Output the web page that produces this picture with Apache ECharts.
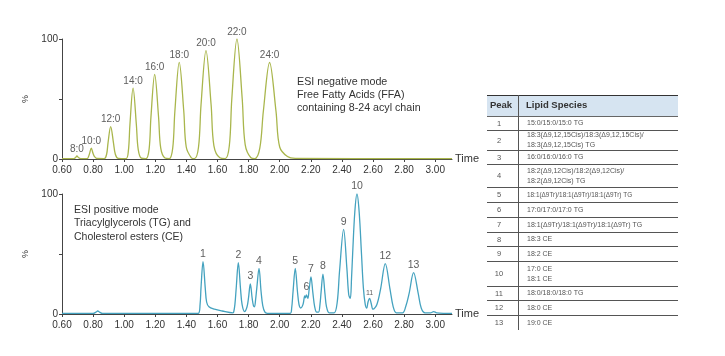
<!DOCTYPE html>
<html><head><meta charset="utf-8">
<script src="https://cdn.jsdelivr.net/npm/echarts@6/dist/echarts.min.js"></script>
<style>html,body{margin:0;padding:0;background:#fff}#c{width:725px;height:356px}</style>
</head><body><div id="c"></div>
<script>
// ---------- data ----------
const xTickValues = [0.60,0.80,1.00,1.20,1.40,1.60,1.80,2.00,2.20,2.40,2.60,2.80,3.00];
const yTickValues = [0,50,100];
const yLabelValues = [0,100];

// ESI negative mode (FFA) trace: [time, %]
const ffaTrace = [
 [0.600,0.3],[0.660,0.3],[0.676,0.3],[0.688,1.3],[0.696,2.5],[0.705,1.3],[0.720,0.3],
 [0.762,0.3],[0.772,2.5],[0.777,4.5],[0.788,9],[0.800,4.5],[0.809,2],[0.825,0.4],
 [0.872,0.3],[0.887,4],[0.896,13.5],[0.913,27],[0.931,13.5],[0.943,4],[0.962,0.5],
 [1.012,0.3],[1.027,7],[1.037,29],[1.057,59],[1.078,29],[1.090,8],[1.110,0.7],
 [1.140,0.3],[1.160,8],[1.172,35],[1.196,70.6],[1.221,35],[1.235,9],[1.262,0.8],
 [1.290,0.3],[1.312,9],[1.326,40],[1.354,80.6],[1.383,40],[1.399,10],[1.432,1],
 [1.452,0.3],[1.478,10],[1.494,45],[1.526,90.3],[1.559,45],[1.577,11],[1.615,1],
 [1.650,0.3],[1.676,11],[1.692,50],[1.725,100],[1.759,50],[1.778,12],[1.815,1],
 [1.840,0.3],[1.872,9],[1.895,40],[1.935,80.4],[1.976,40],[2.000,10],[2.050,2],[2.100,0.5],[3.108,0.3]
];
const ffaPeakNames = ['8:0','10:0','12:0','14:0','16:0','18:0','20:0','22:0','24:0'];
const ffaPeakTimes = [0.696,0.788,0.913,1.057,1.196,1.354,1.526,1.725,1.935];
const ffaPeakHeights = [2.5,9,27,59,70.6,80.6,90.3,100,80.4];

// ESI positive mode (TG / CE) trace: [time, %]
const ceTrace = [
 [0.600,0.5],[0.800,0.5],[0.818,1.5],[0.830,2.5],[0.842,1.5],[0.860,0.5],[1.476,0.5],
 [1.488,8],[1.494,22],[1.507,43.6],[1.521,22],[1.530,10],[1.545,6],[1.580,4],[1.630,2.5],[1.700,1],
 [1.704,1.5],[1.712,8],[1.720,21],[1.734,42.8],[1.748,21],[1.758,8],[1.774,2],
 [1.790,6],[1.799,13],[1.811,25],[1.823,13],[1.831,7],[1.838,6],
 [1.845,12],[1.853,22],[1.867,38],[1.880,19],[1.891,7],[1.905,1.5],[1.920,0.6],
 [2.068,0.6],
 [2.077,5],[2.086,19],[2.100,38],[2.114,19],[2.124,8],[2.135,5],
 [2.150,8],[2.161,15],[2.166,13.5],[2.172,16],[2.181,13],
 [2.189,20],[2.201,31],[2.213,18],[2.225,6],[2.238,1.5],
 [2.250,1.5],[2.259,8],[2.266,18],[2.278,33.3],[2.291,17],[2.301,6],[2.318,1],
 [2.350,1],
 [2.370,10],[2.385,36],[2.411,70.6],[2.432,38],[2.444,16],[2.454,13],
 [2.462,30],[2.469,50],[2.483,85],[2.497,100],[2.511,85],[2.526,50],[2.538,22],[2.550,8],[2.560,5],
 [2.568,10],[2.578,13],[2.588,9],[2.600,4],
 [2.625,8],[2.649,21],[2.679,42],[2.709,21],[2.730,6],[2.750,1],
 [2.790,1],
 [2.810,6],[2.832,17],[2.861,34.4],[2.891,17],[2.910,5],[2.935,1],
 [2.970,1],[2.990,2],[3.010,1],[3.108,0.5]
];
const cePeakNames = ['1','2','3','4','5','6','7','8','9','10','11','12','13'];
const cePeakTimes = [1.507,1.734,1.811,1.867,2.100,2.172,2.201,2.278,2.411,2.497,2.578,2.679,2.861];
const cePeakHeights = [43.6,42.8,25,38,38,16,31,33.3,70.6,100,13,42,34.4];

// table
const tablePeaks = ['1','2','3','4','5','6','7','8','9','10','11','12','13'];
const tableSpecies = [
 '15:0/15:0/15:0 TG',
 '18:3(Δ9,12,15Cis)/18:3(Δ9,12,15Cis)/\n18:3(Δ9,12,15Cis) TG',
 '16:0/16:0/16:0 TG',
 '18:2(Δ9,12Cis)/18:2(Δ9,12Cis)/\n18:2(Δ9,12Cis) TG',
 '18:1(Δ9Tr)/18:1(Δ9Tr)/18:1(Δ9Tr) TG',
 '17:0/17:0/17:0 TG',
 '18:1(Δ9Tr)/18:1(Δ9Tr)/18:1(Δ9Tr) TG',
 '18:3 CE',
 '18:2 CE',
 '17:0 CE\n18:1 CE',
 '18:0/18:0/18:0 TG',
 '18:0 CE',
 '19:0 CE'
];
const tableHeader = ['Peak','Lipid Species'];
const negText = 'ESI negative mode\nFree Fatty Acids (FFA)\ncontaining 8-24 acyl chain';
const posText = 'ESI positive mode\nTriacylglycerols (TG) and\nCholesterol esters (CE)';

// ---------- layout / style ----------
const FONT = '"Liberation Sans", Arial, sans-serif';
const TXT = '#333';
const AX = '#444';
const grids = [
  {left:62, top:39, width:390, height:120},
  {left:62, top:194, width:390, height:120}
];
function xAxisFor(i){
  return {
    type:'value', gridIndex:i, min:0.6, max:3.108,
    axisLine:{show:true, onZero:false, lineStyle:{color:AX, width:1}},
    axisTick:{show:true, customValues:xTickValues, length:3, lineStyle:{color:AX}},
    axisLabel:{customValues:xTickValues, formatter:v=>Number(v).toFixed(2), color:TXT, fontSize:10, margin:6, fontFamily:FONT},
    splitLine:{show:false},
    name:'Time', nameLocation:'end', nameGap:3,
    nameTextStyle:{color:TXT, fontSize:11, fontFamily:FONT, verticalAlign:'middle'}
  };
}
function yAxisFor(i){
  return {
    type:'value', gridIndex:i, min:0, max:100,
    axisLine:{show:true, lineStyle:{color:AX, width:1}},
    axisTick:{show:true, customValues:yTickValues, length:3, lineStyle:{color:AX}},
    axisLabel:{customValues:yLabelValues, color:TXT, fontSize:10, margin:4, fontFamily:FONT},
    splitLine:{show:false},
    name:'%', nameLocation:'middle', nameRotate:90, nameGap:9,
    nameTextStyle:{color:TXT, fontSize:9, fontFamily:FONT}
  };
}
function labelData(names, times, heights, small){
  return names.map((n,k)=>({
    name:n, value:[times[k], heights[k]],
    label: small && small[n] ? {fontSize:small[n]} : undefined
  }));
}

// ---------- table graphic ----------
const T = {x0:487, x1:678, xSep:518.5, top:95, headBottom:116, numX:499, textX:527};
const rowBottoms = [130,150,164,187,202,217,232,246,261,286,300,315,330];
const g = [];
g.push({type:'rect', silent:true, shape:{x:T.x0, y:T.top, width:T.x1-T.x0, height:T.headBottom-T.top}, style:{fill:'#d6e4f1'}});
g.push({type:'line', silent:true, shape:{x1:T.x0, y1:T.top+0.5, x2:T.x1, y2:T.top+0.5}, style:{stroke:'#333', lineWidth:1}});
g.push({type:'line', silent:true, shape:{x1:T.x0, y1:T.headBottom+0.5, x2:T.x1, y2:T.headBottom+0.5}, style:{stroke:'#666', lineWidth:1}});
g.push({type:'line', silent:true, shape:{x1:T.xSep, y1:T.top, x2:T.xSep, y2:rowBottoms[rowBottoms.length-1]}, style:{stroke:'#555', lineWidth:1}});
g.push({type:'text', silent:true, style:{text:tableHeader[0], x:T.numX+2, y:(T.top+T.headBottom)/2, textAlign:'center', textVerticalAlign:'middle', fill:'#333', fontSize:9.5, fontWeight:'bold', fontFamily:FONT}});
g.push({type:'text', silent:true, style:{text:tableHeader[1], x:T.textX-1, y:(T.top+T.headBottom)/2, textAlign:'left', textVerticalAlign:'middle', fill:'#333', fontSize:9.5, fontWeight:'bold', fontFamily:FONT}});
let prev = T.headBottom;
tablePeaks.forEach((p,k)=>{
  const b = rowBottoms[k];
  const mid = (prev+b)/2 + 0.5;
  g.push({type:'text', silent:true, style:{text:p, x:T.numX, y:mid, textAlign:'center', textVerticalAlign:'middle', fill:'#555', fontSize:7.5, fontFamily:FONT}});
  g.push({type:'text', silent:true, style:{text:tableSpecies[k], x:T.textX, y:mid, textAlign:'left', textVerticalAlign:'middle', fill:'#555', fontSize:(k===4?6.4:7), lineHeight:10, fontFamily:FONT}});
  if (k < tablePeaks.length-1) {
    g.push({type:'line', silent:true, shape:{x1:T.x0, y1:b+0.5, x2:T.x1, y2:b+0.5}, style:{stroke:'#555', lineWidth:1}});
  }
  prev = b;
});
g.push({type:'text', silent:true, style:{text:negText, x:297, y:76, textAlign:'left', textVerticalAlign:'top', fill:TXT, fontSize:10.7, lineHeight:13, fontFamily:FONT}});
g.push({type:'text', silent:true, style:{text:posText, x:74, y:203, textAlign:'left', textVerticalAlign:'top', fill:TXT, fontSize:10.5, lineHeight:13.5, fontFamily:FONT}});

const chart = echarts.init(document.getElementById('c'), null, {renderer:'canvas'});
chart.setOption({
  animation:false,
  backgroundColor:'#fff',
  grid:grids,
  xAxis:[xAxisFor(0), xAxisFor(1)],
  yAxis:[yAxisFor(0), yAxisFor(1)],
  series:[
    {type:'line', xAxisIndex:0, yAxisIndex:0, data:ffaTrace, showSymbol:false, smooth:0.35, silent:true,
     lineStyle:{color:'#a9b64c', width:1.3}},
    {type:'scatter', xAxisIndex:0, yAxisIndex:0, symbolSize:0, silent:true,
     data:labelData(ffaPeakNames, ffaPeakTimes, ffaPeakHeights),
     label:{show:true, position:'top', distance:2, formatter:'{b}', color:TXT, fontSize:10, fontFamily:FONT}},
    {type:'line', xAxisIndex:1, yAxisIndex:1, data:ceTrace, showSymbol:false, smooth:0.35, silent:true,
     lineStyle:{color:'#44a2bf', width:1.3}},
    {type:'scatter', xAxisIndex:1, yAxisIndex:1, symbolSize:0, silent:true,
     data:labelData(cePeakNames, cePeakTimes, cePeakHeights, {'11':7}),
     label:{show:true, position:'top', distance:2, formatter:'{b}', color:TXT, fontSize:10.5, fontFamily:FONT}}
  ],
  graphic:g
});
</script></body></html>
